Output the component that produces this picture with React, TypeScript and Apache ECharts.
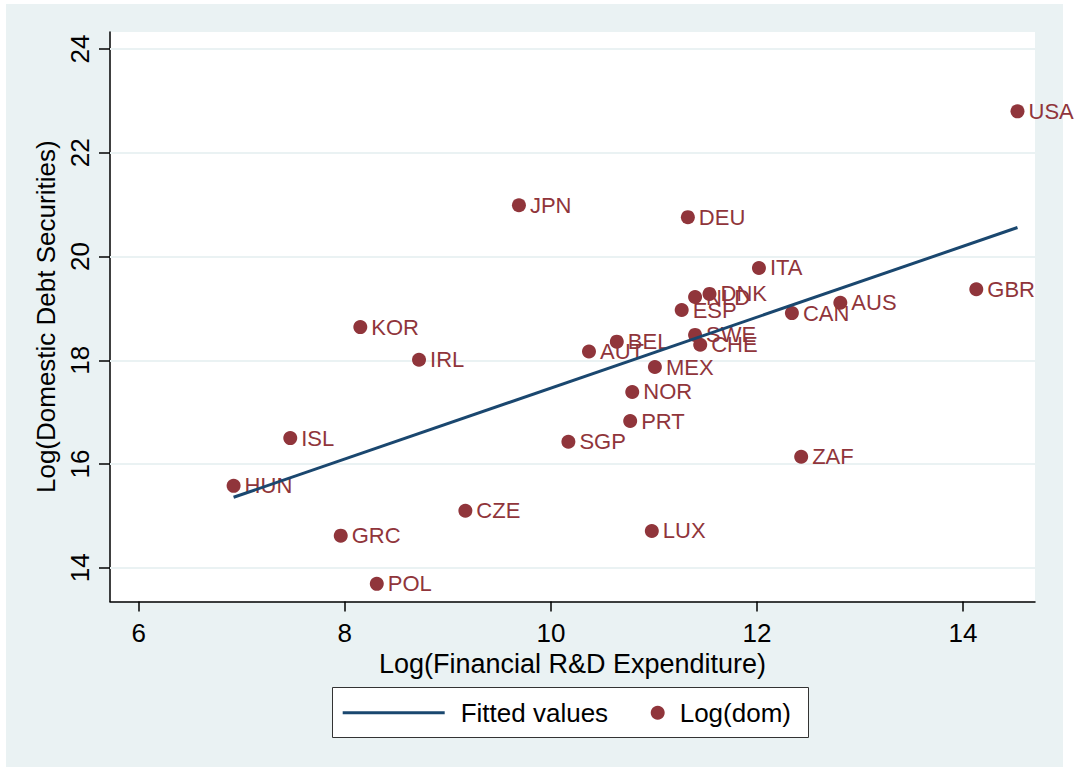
import React, { useEffect, useRef } from 'react';
import * as echarts from 'echarts';

const countries = ['USA', 'JPN', 'DEU', 'ITA', 'DNK', 'NLD', 'ESP', 'CAN', 'AUS', 'GBR', 'KOR', 'SWE', 'CHE', 'BEL', 'AUT', 'IRL', 'MEX', 'NOR', 'PRT', 'SGP', 'ISL', 'ZAF', 'HUN', 'CZE', 'GRC', 'LUX', 'POL'];
const rdExpenditure = [14.53, 9.69, 11.33, 12.02, 11.54, 11.40, 11.27, 12.34, 12.81, 14.13, 8.15, 11.40, 11.45, 10.64, 10.37, 8.72, 11.01, 10.79, 10.77, 10.17, 7.47, 12.43, 6.92, 9.17, 7.96, 10.98, 8.31];
const domesticDebt = [22.80, 20.99, 20.76, 19.78, 19.28, 19.22, 18.97, 18.91, 19.11, 19.37, 18.64, 18.49, 18.30, 18.36, 18.17, 18.01, 17.87, 17.39, 16.83, 16.43, 16.50, 16.14, 15.58, 15.10, 14.62, 14.71, 13.69];
const fittedX = [6.92, 14.53];
const fittedY = [15.36, 20.56];
const xTicks = [6, 8, 10, 12, 14];
const yTicks = [14, 16, 18, 20, 22, 24];
const xRange = [5.72, 14.7];
const yRange = [13.35, 24.33];

export default function App() {
  const ref = useRef<HTMLDivElement>(null);
  useEffect(() => {
    document.body.style.margin = '0';
    const chart = echarts.init(ref.current!, null, { renderer: 'svg' });
    const FONT = '"Liberation Sans", Arial, Helvetica, sans-serif';
    const maroon = '#90353b';
    const navy = '#1a476f';
    const bg = '#eaf2f3';
    chart.setOption({
      animation: false,
      backgroundColor: '#ffffff',
      textStyle: { fontFamily: FONT },
      graphic: [
        { type: 'rect', z: -10, silent: true, shape: { x: 6, y: 4, width: 1057, height: 763 }, style: { fill: bg } },
        { type: 'rect', z: 1, silent: true, shape: { x: 332.5, y: 687.5, width: 476, height: 50 }, style: { fill: '#ffffff', stroke: '#333333', lineWidth: 1 } },
      ],
      grid: { left: 110, top: 32, right: 40, bottom: 170.5, show: true, backgroundColor: '#ffffff', borderWidth: 0 },
      xAxis: {
        type: 'value',
        min: xRange[0],
        max: xRange[1],
        axisLine: { show: true, onZero: false, lineStyle: { color: '#000', width: 1.5 } },
        axisTick: { show: true, length: 10, customValues: xTicks, lineStyle: { color: '#000', width: 1.5 } },
        axisLabel: { customValues: xTicks, fontSize: 26, fontFamily: FONT, color: '#000', margin: 18 },
        splitLine: { show: false },
        name: 'Log(Financial R&D Expenditure)',
        nameLocation: 'middle',
        nameGap: 40,
        nameTextStyle: { fontSize: 27, fontFamily: FONT, color: '#000' },
      },
      yAxis: {
        type: 'value',
        min: yRange[0],
        max: yRange[1],
        axisLine: { show: true, onZero: false, lineStyle: { color: '#000', width: 1.5 } },
        axisTick: { show: true, length: 11, customValues: yTicks, lineStyle: { color: '#000', width: 1.5 } },
        axisLabel: { customValues: yTicks, fontSize: 26, fontFamily: FONT, color: '#000', margin: 17, rotate: 90 },
        splitLine: { show: false },
        name: 'Log(Domestic Debt Securities)',
        nameLocation: 'middle',
        nameGap: 40,
        nameTextStyle: { fontSize: 26, fontFamily: FONT, color: '#000' },
      },
      legend: [
        {
          data: [{ name: 'Fitted values', icon: 'rect' }],
          left: 342.7,
          top: 697.7,
          itemWidth: 102,
          itemHeight: 3,
          padding: 0,
          selectedMode: false,
          z: 5,
          textStyle: { fontSize: 26, fontFamily: FONT, color: '#000', padding: [0, 0, 0, 11], lineHeight: 30 },
        },
        {
          data: [{ name: 'Log(dom)', icon: 'circle' }],
          left: 650.7,
          top: 697.7,
          itemWidth: 14,
          itemHeight: 14,
          padding: 0,
          selectedMode: false,
          z: 5,
          textStyle: { fontSize: 26, fontFamily: FONT, color: '#000', padding: [0, 0, 0, 10], lineHeight: 30 },
        },
      ],
      series: [
        {
          name: 'Log(dom)',
          type: 'scatter',
          z: 2,
          symbol: 'circle',
          symbolSize: 14,
          itemStyle: { color: maroon, opacity: 1 },
          data: countries.map((c, i) => ({ name: c, value: [rdExpenditure[i], domesticDebt[i]] })),
          label: {
            show: true,
            position: 'right',
            distance: 4,
            formatter: '{b}',
            fontSize: 22,
            fontFamily: FONT,
            color: maroon,
          },
          emphasis: { disabled: true },
          markLine: {
            silent: true,
            z: 1,
            symbol: ['none', 'none'],
            label: { show: false },
            lineStyle: { color: bg, width: 2, type: 'solid' },
            emphasis: { disabled: true },
            data: yTicks.map((v) => ({ yAxis: v })),
          },
        },
        {
          name: 'Fitted values',
          type: 'line',
          z: 3,
          symbol: 'none',
          showSymbol: false,
          lineStyle: { color: navy, width: 3 },
          itemStyle: { color: navy },
          emphasis: { disabled: true },
          data: fittedX.map((x, i) => [x, fittedY[i]]),
        },
      ],
    });
    return () => chart.dispose();
  }, []);
  return <div ref={ref} style={{ width: 1075, height: 772 }} />;
}
